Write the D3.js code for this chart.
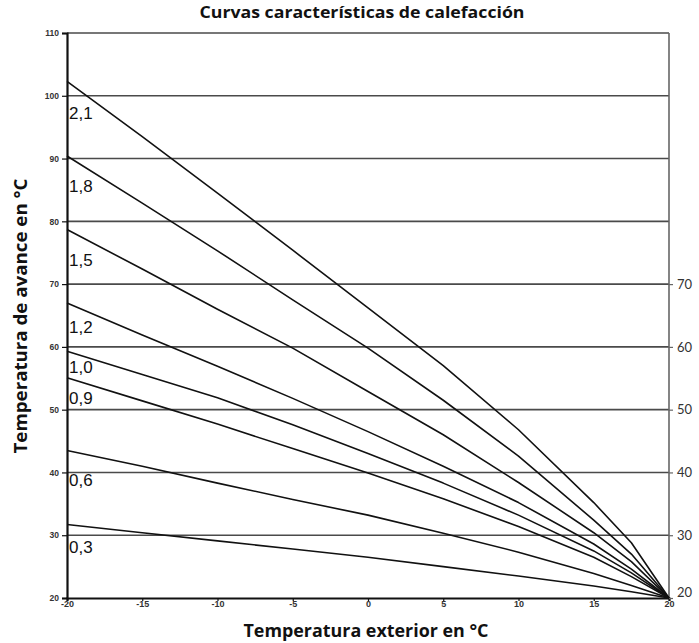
<!DOCTYPE html>
<html>
<head>
<meta charset="utf-8">
<script src="https://cdn.jsdelivr.net/npm/d3@7"></script>
<style>
  body { margin: 0; background: #fff; }
  svg { display: block; }
</style>
</head>
<body>
<div id="chart"></div>
<script>
// chart size
var width = 699,
    height = 643;

// outdoor temperatures where the curves are read
var outdoor = [-20, -15, -10, -5, 0, 5, 10, 15, 17.5, 20];

// flow temperature per curve, same order as outdoor
var curveNames = ["2,1", "1,8", "1,5", "1,2", "1,0", "0,9", "0,6", "0,3"];
var c21 = [102.3, 93.5, 84.5, 75.4, 66.2, 57.0, 46.8, 35.2, 28.8, 20];
var c18 = [90.4, 82.9, 75.3, 67.5, 59.8, 51.5, 42.6, 32.4, 27.0, 20];
var c15 = [78.7, 72.4, 66.0, 59.8, 52.9, 46.0, 38.4, 30.4, 25.8, 20];
var c12 = [67.0, 61.9, 56.9, 51.8, 46.5, 41.0, 35.2, 28.6, 24.6, 20];
var c10 = [59.3, 55.6, 51.9, 47.6, 43.0, 38.3, 33.2, 27.5, 24.0, 20];
var c09 = [55.1, 51.4, 47.7, 43.8, 39.9, 35.8, 31.4, 26.5, 23.4, 20];
var c06 = [43.5, 41.0, 38.3, 35.7, 33.2, 30.3, 27.3, 23.9, 22.0, 20];
var c03 = [31.7, 30.4, 29.1, 27.8, 26.5, 25.0, 23.5, 21.9, 21.0, 20];
var curves = [c21, c18, c15, c12, c10, c09, c06, c03];

// flow temperature where each curve's name is written
var labelAt = [97.2, 85.6, 73.8, 63.2, 56.8, 51.8, 38.8, 28.2];

// axis ticks
var xTicks = [-20, -15, -10, -5, 0, 5, 10, 15, 20];
var yTicks = [20, 30, 40, 50, 60, 70, 80, 90, 100, 110];
var rightTicks = [20, 30, 40, 50, 60, 70];

var svg = d3.select("#chart").append("svg")
    .attr("width", width)
    .attr("height", height);

var x = d3.scaleLinear().domain([-20, 20]).range([67, 669]);
var y = d3.scaleLinear().domain([20, 110]).range([598, 33]);

// plain hyphen like the original, not the unicode minus
var plain = function(d) { return String(d); };

// horizontal grid
svg.append("g")
  .selectAll("line")
  .data(yTicks.slice(1))
  .enter().append("line")
    .attr("x1", x(-20)).attr("x2", x(20))
    .attr("y1", function(d) { return y(d); })
    .attr("y2", function(d) { return y(d); })
    .attr("stroke", "#4a4a4a")
    .attr("stroke-width", 1.6);

// right border
svg.append("line")
    .attr("x1", x(20)).attr("x2", x(20))
    .attr("y1", y(110)).attr("y2", y(20))
    .attr("stroke", "#666")
    .attr("stroke-width", 1.6);

// curves
var line = d3.line()
    .x(function(d, i) { return x(outdoor[i]); })
    .y(function(d) { return y(d); });

svg.append("g")
  .selectAll("path")
  .data(curves)
  .enter().append("path")
    .attr("d", line)
    .attr("fill", "none")
    .attr("stroke", "#111")
    .attr("stroke-width", 1.6)
    .attr("stroke-linejoin", "round");

// curve names
svg.append("g")
  .selectAll("text")
  .data(curveNames)
  .enter().append("text")
    .attr("x", x(-20) + 2)
    .attr("y", function(d, i) { return y(labelAt[i]); })
    .attr("dy", "0.36em")
    .attr("font-family", "Liberation Sans, Arial, sans-serif")
    .attr("font-size", 17)
    .attr("fill", "#111")
    .text(function(d) { return d; });

// left axis
var yAxis = svg.append("g")
    .attr("transform", "translate(" + x(-20) + ",0)")
    .call(d3.axisLeft(y).tickValues(yTicks).tickFormat(plain).tickSize(5).tickPadding(3));
yAxis.select(".domain").attr("stroke", "#111").attr("stroke-width", 2.2);
yAxis.selectAll(".tick line").attr("stroke", "#111").attr("stroke-width", 1.2);
yAxis.selectAll("text")
    .attr("font-family", "Liberation Sans, Arial, sans-serif")
    .attr("font-size", 8.5)
    .attr("font-weight", "bold")
    .attr("fill", "#333");

// bottom axis
var xAxis = svg.append("g")
    .attr("transform", "translate(0," + y(20) + ")")
    .call(d3.axisBottom(x).tickValues(xTicks).tickFormat(plain).tickSize(3).tickPadding(0));
xAxis.select(".domain").attr("stroke", "#111").attr("stroke-width", 2.2);
xAxis.selectAll(".tick line").attr("stroke", "#111").attr("stroke-width", 1.2);
xAxis.selectAll("text")
    .attr("font-family", "Liberation Sans, Arial, sans-serif")
    .attr("font-size", 9)
    .attr("font-weight", "bold")
    .attr("fill", "#333");

// right axis
var rAxis = svg.append("g")
    .attr("transform", "translate(" + x(20) + ",0)")
    .call(d3.axisRight(y).tickValues(rightTicks).tickFormat(plain).tickSize(4).tickPadding(4));
rAxis.select(".domain").remove();
rAxis.selectAll(".tick line").attr("stroke", "#666").attr("stroke-width", 1.2);
rAxis.selectAll("text")
    .attr("font-family", "Lato, Open Sans, sans-serif")
    .attr("font-size", 13)
    .attr("fill", "#333");
// lowest label sits a little higher, clear of the bottom axis
rAxis.selectAll("text").filter(function(d) { return d === 20; }).attr("dy", "-0.1em");

// titles
svg.append("text")
    .attr("x", 362)
    .attr("y", 18)
    .attr("text-anchor", "middle")
    .attr("font-family", "Open Sans, Lato, sans-serif")
    .attr("font-weight", "bold")
    .attr("font-size", 16)
    .attr("textLength", 325)
    .attr("lengthAdjust", "spacingAndGlyphs")
    .attr("fill", "#111")
    .text("Curvas características de calefacción");

svg.append("text")
    .attr("x", 366)
    .attr("y", 637)
    .attr("text-anchor", "middle")
    .attr("font-family", "Open Sans, Lato, sans-serif")
    .attr("font-weight", "bold")
    .attr("font-size", 17)
    .attr("textLength", 245)
    .attr("lengthAdjust", "spacingAndGlyphs")
    .attr("fill", "#111")
    .text("Temperatura exterior en °C");

svg.append("text")
    .attr("transform", "translate(27,316) rotate(-90)")
    .attr("text-anchor", "middle")
    .attr("font-family", "Open Sans, Lato, sans-serif")
    .attr("font-weight", "bold")
    .attr("font-size", 17)
    .attr("textLength", 275)
    .attr("lengthAdjust", "spacingAndGlyphs")
    .attr("fill", "#111")
    .text("Temperatura de avance en °C");
</script>
</body>
</html>
